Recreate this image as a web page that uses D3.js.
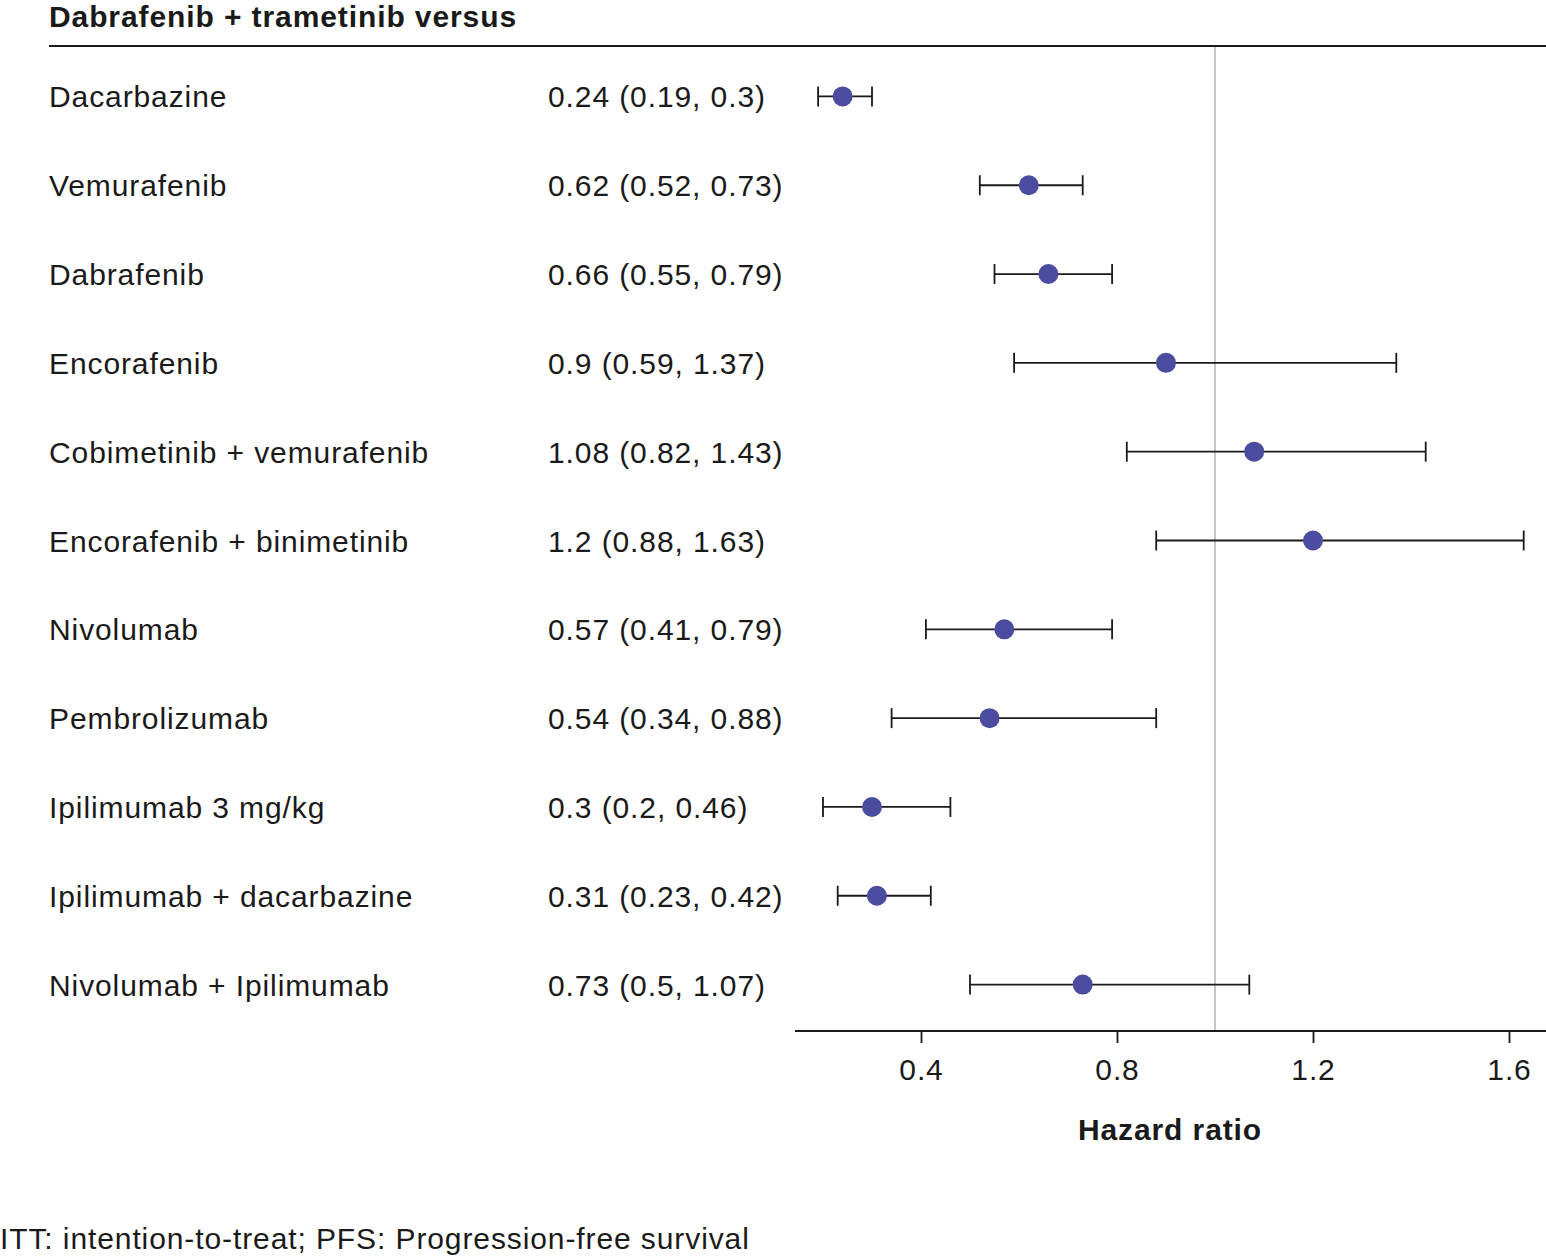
<!DOCTYPE html>
<html>
  <head>
    <meta charset="utf-8">
    <script src="https://d3js.org/d3.v7.min.js"></script>
    <style>
      body { margin: 0; background: #fff; }
      text { font-family: "Liberation Sans", Arial, sans-serif; fill: #1a1a1a; letter-spacing: 0.9px; }
    </style>
  </head>
  <body>
    <div id="chart"></div>
    <script>
      // data
      var treatments = ["Dacarbazine", "Vemurafenib", "Dabrafenib", "Encorafenib",
        "Cobimetinib + vemurafenib", "Encorafenib + binimetinib", "Nivolumab",
        "Pembrolizumab", "Ipilimumab 3 mg/kg", "Ipilimumab + dacarbazine", "Nivolumab + Ipilimumab"];
      var hr    = [0.24, 0.62, 0.66, 0.9, 1.08, 1.2, 0.57, 0.54, 0.3, 0.31, 0.73];
      var lower = [0.19, 0.52, 0.55, 0.59, 0.82, 0.88, 0.41, 0.34, 0.2, 0.23, 0.5];
      var upper = [0.3, 0.73, 0.79, 1.37, 1.43, 1.63, 0.79, 0.88, 0.46, 0.42, 1.07];
      var hrLabels = ["0.24 (0.19, 0.3)", "0.62 (0.52, 0.73)", "0.66 (0.55, 0.79)", "0.9 (0.59, 1.37)",
        "1.08 (0.82, 1.43)", "1.2 (0.88, 1.63)", "0.57 (0.41, 0.79)", "0.54 (0.34, 0.88)",
        "0.3 (0.2, 0.46)", "0.31 (0.23, 0.42)", "0.73 (0.5, 1.07)"];
      var ticks = [0.4, 0.8, 1.2, 1.6];

      var width = 1546, height = 1256;
      var fs = "30px";
      var svg = d3.select("#chart").append("svg")
        .attr("width", width).attr("height", height);

      var x = d3.scaleLinear().domain([0.4, 1.6]).range([921, 1509]);
      var y = d3.scaleBand().domain(d3.range(treatments.length))
        .range([53, 1030]).paddingOuter(0);

      function cy(i) { return y(i) + y.bandwidth() / 2 - 1; }

      // header
      svg.append("text").attr("x", 49).attr("y", 27)
        .style("font-size", fs).style("font-weight", "bold")
        .text("Dabrafenib + trametinib versus");
      svg.append("line").attr("x1", 49).attr("x2", 1546).attr("y1", 46).attr("y2", 46)
        .style("stroke", "#1a1a1a").style("stroke-width", 2);

      // reference line at HR = 1
      svg.append("line").attr("x1", x(1)).attr("x2", x(1)).attr("y1", 47).attr("y2", 1031)
        .style("stroke", "#b3b3b3").style("stroke-width", 1.5);

      var rows = svg.selectAll("g.row").data(treatments).enter().append("g").attr("class", "row");

      rows.append("text").attr("x", 49).attr("y", function(d, i) { return cy(i) + 11; })
        .style("font-size", fs).text(function(d) { return d; });
      rows.append("text").attr("x", 548).attr("y", function(d, i) { return cy(i) + 11; })
        .style("font-size", fs).text(function(d, i) { return hrLabels[i]; });

      rows.append("line")
        .attr("x1", function(d, i) { return x(lower[i]); })
        .attr("x2", function(d, i) { return x(upper[i]); })
        .attr("y1", function(d, i) { return cy(i); })
        .attr("y2", function(d, i) { return cy(i); })
        .style("stroke", "#1a1a1a").style("stroke-width", 1.8);
      [lower, upper].forEach(function(arr) {
        rows.append("line")
          .attr("x1", function(d, i) { return x(arr[i]); })
          .attr("x2", function(d, i) { return x(arr[i]); })
          .attr("y1", function(d, i) { return cy(i) - 10; })
          .attr("y2", function(d, i) { return cy(i) + 10; })
          .style("stroke", "#1a1a1a").style("stroke-width", 1.8);
      });
      rows.append("circle")
        .attr("cx", function(d, i) { return x(hr[i]); })
        .attr("cy", function(d, i) { return cy(i); })
        .attr("r", 10).style("fill", "#4b4b9f");

      // axis
      var axis = svg.append("g").attr("transform", "translate(0,1031)")
        .call(d3.axisBottom(x).tickValues(ticks).tickSize(12).tickPadding(16)
          .tickFormat(d3.format(".1f")));
      axis.select(".domain").remove();
      axis.append("line").attr("x1", 795).attr("x2", 1546)
        .style("stroke", "#1a1a1a").style("stroke-width", 2);
      axis.selectAll(".tick line").style("stroke", "#1a1a1a").style("stroke-width", 1.8);
      axis.selectAll(".tick text").style("font-size", fs)
        .style("font-family", "'Liberation Sans', Arial, sans-serif").style("fill", "#1a1a1a");

      svg.append("text").attr("x", 1170).attr("y", 1140).attr("text-anchor", "middle")
        .style("font-size", fs).style("font-weight", "bold").text("Hazard ratio");

      svg.append("text").attr("x", 0).attr("y", 1249)
        .style("font-size", fs).text("ITT: intention-to-treat; PFS: Progression-free survival");
    </script>
  </body>
</html>
